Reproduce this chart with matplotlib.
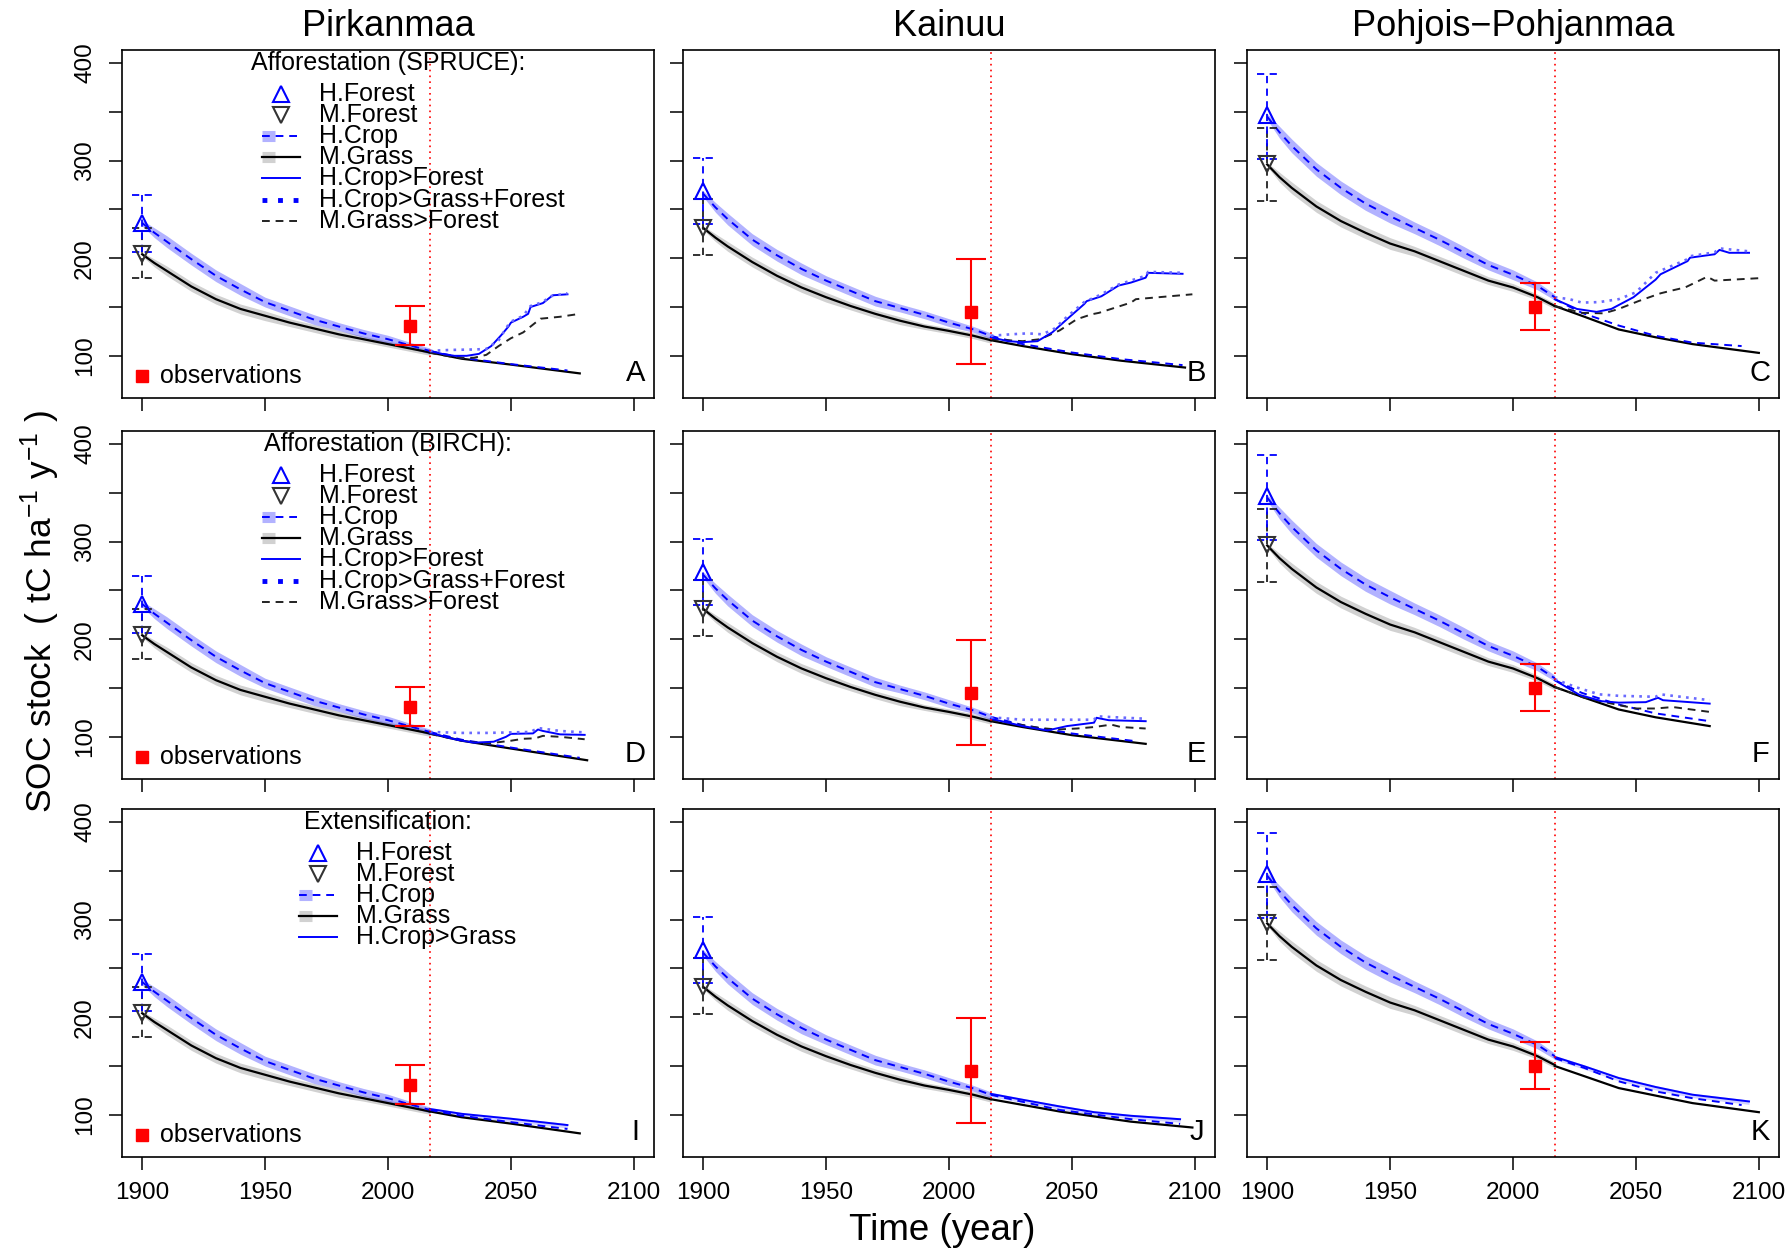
import numpy as np
import matplotlib
matplotlib.use('Agg')
import matplotlib.pyplot as plt

plt.rcParams['font.family'] = ['Liberation Sans', 'DejaVu Sans']
plt.rcParams['mathtext.fontset'] = 'custom'
plt.rcParams['mathtext.rm'] = 'Liberation Sans'
plt.rcParams['mathtext.it'] = 'Liberation Sans:italic'

# ---- data ----
regions = ['Pirkanmaa', 'Kainuu', 'Pohjois\u2212Pohjanmaa']
letters = [['A', 'B', 'C'], ['D', 'E', 'F'], ['I', 'J', 'K']]
row_titles = ['Afforestation (SPRUCE):', 'Afforestation (BIRCH):', 'Extensification:']

hist_years = [1900, 1905, 1910, 1920, 1930, 1940, 1950, 1960, 1970, 1980, 1990, 2000, 2010, 2017]
crop_pirk = [236, 226, 217, 199, 182, 168, 155, 146, 137, 130, 123, 117, 110, 105]
grass_pirk = [204, 195, 187, 171, 158, 148, 141, 134, 128, 122, 117, 112, 107, 103.5]
crop_kain = [266, 252, 240, 219, 203, 189, 177, 166.5, 156, 149, 142, 134, 127, 120.5]
grass_kain = [231, 221, 212, 196, 182, 170, 160, 151, 143, 136, 130, 125.5, 120.5, 116]
crop_pohj = [345, 329, 315, 291, 272, 256, 243, 231, 219, 206, 193, 183, 171.5, 160]
grass_pohj = [296, 283, 272, 253, 238, 226, 215, 207, 197, 187, 177, 170, 160, 151]
# half widths of the shaded bands
crop_band = [3, 5, 6, 6, 6, 6, 5, 5, 5, 4, 4, 4, 3, 3]
grass_band = [2, 4, 5, 5, 5, 5, 5, 4, 4, 4, 3, 3, 3, 3]
crop_band_pohj = [3, 6, 7, 7, 7, 7, 7, 6, 6, 6, 5, 5, 4, 3]
grass_band_pohj = [2, 5, 6, 6, 6, 6, 6, 5, 5, 5, 4, 4, 3, 3]

# initial forest values in 1900 with ranges
hforest = [236, 268.5, 347]
hforest_lo = [206, 235, 301.5]
hforest_hi = [265, 302.5, 389]
mforest = [204, 231, 296.5]
mforest_lo = [180, 203, 259]
mforest_hi = [231, 261, 333]

# observations (2009)
obs_year = 2009
obs_mean = [131, 144.5, 149.5]
obs_lo = [111, 91.5, 126]
obs_hi = [151, 199, 174.5]
present_year = 2017

# ---- projections after 2017, (year, value) ----
fut_A_crop = [(2017, 105), (2030, 98), (2050, 91.5), (2073, 85)]
fut_A_grass = [(2017, 103.5), (2030, 97), (2050, 91), (2078, 82)]
A_crop_forest = [(2017, 105), (2022, 102), (2027, 100), (2032, 100), (2037, 102), (2042, 110), (2046, 121),
                 (2049, 130), (2050, 134), (2055, 140), (2057, 143), (2058, 150), (2063, 154), (2066, 160),
                 (2067, 162), (2073, 163)]
A_crop_grass_forest = [(2017, 105), (2025, 106), (2035, 106.5), (2040, 107), (2045, 116), (2049, 132),
                       (2050, 135), (2055, 141), (2058, 151), (2063, 155), (2066, 161), (2073, 164)]
A_grass_forest = [(2017, 103), (2025, 99.5), (2030, 98), (2035, 98), (2040, 101), (2045, 110), (2050, 118),
                  (2055, 124), (2060, 134), (2062, 138), (2070, 140), (2078, 143)]

fut_B_crop = [(2017, 120.5), (2030, 112), (2050, 103.4), (2070, 96.6), (2095, 90.5)]
fut_B_grass = [(2017, 116), (2030, 110), (2050, 101.7), (2070, 95), (2096, 88)]
B_crop_forest = [(2017, 119), (2024, 115), (2030, 114), (2036, 115), (2042, 124), (2048, 137.5), (2055, 153),
                 (2056, 156), (2062, 161), (2069, 172), (2074, 175), (2080, 180), (2081, 185), (2095, 184)]
B_crop_grass_forest = [(2017, 120.5), (2025, 122), (2032, 123), (2038, 122), (2043, 128), (2048, 140),
                       (2055, 155), (2062, 163), (2069, 173), (2080, 182), (2081, 186), (2095, 185)]
B_grass_forest = [(2017, 117), (2030, 115), (2037, 117), (2045, 126), (2052, 137.5), (2058, 142.5),
                  (2061, 144), (2074, 154.5), (2076, 158), (2099, 163)]

fut_C_crop = [(2017, 158), (2028, 144), (2043, 131), (2058, 120.5), (2073, 113.5), (2093, 110)]
fut_C_grass = [(2017, 151), (2028, 141), (2043, 127), (2058, 119), (2073, 112), (2100, 103)]
C_crop_forest = [(2017, 158), (2026, 148), (2034, 145), (2040, 148), (2049, 160), (2058, 178), (2060, 183.5),
                 (2071, 197), (2072, 200.5), (2082, 204), (2084, 208.5), (2088, 205.5), (2096, 205.5)]
C_crop_grass_forest = [(2017, 160), (2023, 158), (2028, 154.5), (2035, 155), (2043, 158), (2050, 165),
                       (2058, 185), (2071, 199), (2072, 202), (2082, 206), (2084, 210), (2096, 207)]
C_grass_forest = [(2017, 151), (2028, 144), (2037, 143.5), (2043, 148), (2051, 156), (2060, 164),
                  (2064, 166.5), (2070, 170), (2079, 181), (2082, 177), (2100, 179.5)]

fut_D_crop = [(2017, 105), (2030, 97), (2050, 89), (2078, 78.5)]
fut_D_grass = [(2017, 103.5), (2030, 96), (2050, 88), (2081, 76)]
D_crop_forest = [(2017, 104), (2028, 97), (2035, 94), (2043, 95), (2048, 100), (2050, 103), (2059, 103.5),
                 (2061, 107.5), (2063, 106), (2070, 102.5), (2080, 102)]
D_crop_grass_forest = [(2017, 105), (2030, 104), (2040, 104), (2050, 104.5), (2058, 105), (2061, 109),
                       (2070, 106), (2080, 104.5)]
D_grass_forest = [(2017, 103), (2030, 96), (2040, 93), (2050, 96), (2055, 98), (2060, 98.5), (2063, 101),
                  (2070, 100), (2080, 97.5)]

fut_E_crop = [(2017, 120.5), (2030, 112), (2050, 103.4), (2076, 95.5)]
fut_E_grass = [(2017, 116), (2030, 110), (2050, 101.7), (2080, 92.8)]
E_crop_forest = [(2017, 118.5), (2024, 114.5), (2030, 111), (2040, 106.5), (2048, 111), (2059, 114.5),
                 (2060, 119.5), (2065, 117), (2080, 116)]
E_crop_grass_forest = [(2017, 120), (2030, 117.5), (2045, 117.5), (2059, 117.5), (2060, 121), (2080, 118.5)]
E_grass_forest = [(2017, 117), (2030, 112), (2037, 109), (2044, 107.5), (2052, 108.5), (2059, 110),
                  (2066, 112.5), (2070, 110), (2080, 108.5)]

fut_F_crop = [(2017, 158), (2028, 145), (2043, 133), (2058, 124), (2080, 116)]
fut_F_grass = [(2017, 151), (2028, 141), (2043, 128), (2058, 120), (2080, 111)]
F_crop_forest = [(2017, 158), (2027, 143), (2036, 136.5), (2043, 135), (2054, 135.5), (2059, 140),
                 (2061, 137.5), (2080, 134)]
F_crop_grass_forest = [(2017, 159), (2026, 150.5), (2035, 143.5), (2043, 142), (2058, 141), (2060, 143.5),
                       (2080, 137.5)]
F_grass_forest = [(2017, 151), (2029, 140), (2043, 132.5), (2050, 129), (2058, 129), (2065, 130.5),
                  (2080, 125.5)]

fut_I_crop = [(2017, 105), (2030, 99), (2050, 92.5), (2073, 85.5)]
fut_I_grass = [(2017, 103.5), (2030, 97.5), (2050, 91), (2078, 81)]
I_crop_grass = [(2017, 106), (2030, 101), (2050, 96), (2073, 89.5)]

fut_J_crop = [(2017, 120.5), (2045, 105), (2074, 95.5), (2094, 90.7)]
fut_J_grass = [(2017, 116), (2045, 103.4), (2074, 93), (2099, 87)]
J_crop_grass = [(2017, 121.5), (2030, 115.4), (2045, 108.6), (2059, 102.7), (2074, 99), (2094, 95.5)]

fut_K_crop = [(2017, 158), (2029, 148), (2043, 134.3), (2058, 124), (2073, 117), (2093, 110)]
fut_K_grass = [(2017, 150), (2043, 127.4), (2073, 112), (2100, 102.7)]
K_crop_grass = [(2017, 159.3), (2029, 149.7), (2043, 137.7), (2058, 128.5), (2073, 120.6), (2096, 113.7)]

# tables built from the lists above
crop_hist = [crop_pirk, crop_kain, crop_pohj]
grass_hist = [grass_pirk, grass_kain, grass_pohj]
crop_bands = [crop_band, crop_band, crop_band_pohj]
grass_bands = [grass_band, grass_band, grass_band_pohj]
future = {
    'A': dict(crop=fut_A_crop, grass=fut_A_grass, crop_forest=A_crop_forest,
              crop_grass_forest=A_crop_grass_forest, grass_forest=A_grass_forest),
    'B': dict(crop=fut_B_crop, grass=fut_B_grass, crop_forest=B_crop_forest,
              crop_grass_forest=B_crop_grass_forest, grass_forest=B_grass_forest),
    'C': dict(crop=fut_C_crop, grass=fut_C_grass, crop_forest=C_crop_forest,
              crop_grass_forest=C_crop_grass_forest, grass_forest=C_grass_forest),
    'D': dict(crop=fut_D_crop, grass=fut_D_grass, crop_forest=D_crop_forest,
              crop_grass_forest=D_crop_grass_forest, grass_forest=D_grass_forest),
    'E': dict(crop=fut_E_crop, grass=fut_E_grass, crop_forest=E_crop_forest,
              crop_grass_forest=E_crop_grass_forest, grass_forest=E_grass_forest),
    'F': dict(crop=fut_F_crop, grass=fut_F_grass, crop_forest=F_crop_forest,
              crop_grass_forest=F_crop_grass_forest, grass_forest=F_grass_forest),
    'I': dict(crop=fut_I_crop, grass=fut_I_grass, crop_grass=I_crop_grass),
    'J': dict(crop=fut_J_crop, grass=fut_J_grass, crop_grass=J_crop_grass),
    'K': dict(crop=fut_K_crop, grass=fut_K_grass, crop_grass=K_crop_grass),
}

# ---- styles ----
DASH = (0, (4, 3))
STY = {
    'crop': dict(color='blue', ls=DASH, lw=1.4),
    'grass': dict(color='black', ls='-', lw=1.6),
    'crop_forest': dict(color='blue', ls='-', lw=1.4),
    'crop_grass_forest': dict(color='#6a6aff', ls=(0, (1, 2)), lw=1.9),
    'grass_forest': dict(color='#222222', ls=DASH, lw=1.4),
    'crop_grass': dict(color='blue', ls='-', lw=1.4),
}
BLUE_BAND = (0, 0, 1, 0.3)
GREY_BAND = (0.55, 0.55, 0.55, 0.4)
KEY_FS = 18

aff_keys = [('up', 'H.Forest'), ('down', 'M.Forest'), ('crop', 'H.Crop'), ('grass', 'M.Grass'),
            ('crop_forest', 'H.Crop>Forest'), ('crop_grass_forest', 'H.Crop>Grass+Forest'),
            ('grass_forest', 'M.Grass>Forest')]
ext_keys = [('up', 'H.Forest'), ('down', 'M.Forest'), ('crop', 'H.Crop'), ('grass', 'M.Grass'),
            ('crop_grass', 'H.Crop>Grass')]


def draw_key(ax, heading, keys, xh):
    # legend drawn in axes fraction, R style
    tr = ax.transAxes
    ax.text(0.5, 0.962, heading, transform=tr, ha='center', va='center', fontsize=KEY_FS)
    hw = 0.071
    for i, (kind, label) in enumerate(keys):
        y = 0.874 - i * 0.0608
        if kind == 'up':
            ax.plot([xh + hw / 2], [y], marker='^', ms=11, mfc='none', mec='blue', mew=1.5,
                    transform=tr, clip_on=False)
        elif kind == 'down':
            ax.plot([xh + hw / 2], [y], marker='v', ms=11, mfc='none', mec='#333333', mew=1.5,
                    transform=tr, clip_on=False)
        else:
            if kind in ('crop', 'grass'):
                band = BLUE_BAND if kind == 'crop' else GREY_BAND
                ax.plot([xh, xh + 0.024], [y, y], color=band, lw=8, solid_capstyle='butt',
                        transform=tr, clip_on=False)
            st = dict(STY[kind])
            if kind == 'crop_grass_forest':
                st.update(color='blue', lw=3.5, ls=(0, (1, 2.2)))
            ax.plot([xh, xh + hw], [y, y], transform=tr, clip_on=False, **st)
        ax.text(xh + hw + 0.035, y, label, transform=tr, ha='left', va='center', fontsize=KEY_FS)


fig = plt.figure(figsize=(17.91, 12.5), dpi=100)
lefts = [122, 683, 1247]
tops = [50, 431, 809]
W, H = 532, 348

hy = np.array(hist_years)
for r in range(3):
    for c in range(3):
        ax = fig.add_axes([lefts[c] / 1791, 1 - (tops[r] + H) / 1250, W / 1791, H / 1250])
        letter = letters[r][c]
        crop = np.array(crop_hist[c])
        grass = np.array(grass_hist[c])
        cb = np.array(crop_bands[c])
        gb = np.array(grass_bands[c])

        ax.fill_between(hy, grass - gb, grass + gb, color=GREY_BAND, lw=0)
        ax.fill_between(hy, crop - cb, crop + cb, color=BLUE_BAND, lw=0)

        fut = future[letter]
        if 'crop_grass' in fut:
            fx, fy = np.array(fut['crop_grass']).T
            ax.fill_between(fx, fy - 3, fy + 1.5, color=(0, 0, 1, 0.18), lw=0)

        ax.plot(hy, grass, **STY['grass'])
        ax.plot(hy, crop, **STY['crop'])
        for name in ['grass', 'crop', 'grass_forest', 'crop_forest', 'crop_grass', 'crop_grass_forest']:
            if name in fut:
                fx, fy = np.array(fut[name]).T
                ax.plot(fx, fy, **STY[name])

        # initial forest values with ranges (dashed)
        x0 = hist_years[0]
        ax.vlines(x0, mforest_lo[c], mforest_hi[c], colors='#222222', linestyles=DASH, lw=1.3)
        ax.hlines([mforest_lo[c], mforest_hi[c]], x0 - 4, x0 + 4, colors='#222222', linestyles=DASH, lw=1.3)
        ax.vlines(x0, hforest_lo[c], hforest_hi[c], colors='blue', linestyles=DASH, lw=1.3)
        ax.hlines([hforest_lo[c], hforest_hi[c]], x0 - 4, x0 + 4, colors='blue', linestyles=DASH, lw=1.3)
        ax.plot([x0], [hforest[c]], marker='^', ms=11, mfc='none', mec='blue', mew=1.5, ls='none')
        ax.plot([x0], [mforest[c]], marker='v', ms=11, mfc='none', mec='#333333', mew=1.5, ls='none')

        # observation
        ax.errorbar([obs_year], [obs_mean[c]], yerr=[[obs_mean[c] - obs_lo[c]], [obs_hi[c] - obs_mean[c]]],
                    fmt='s', color='red', ms=8.5, capsize=11, elinewidth=1.5, capthick=1.5)

        ax.axvline(present_year, color='red', ls=(0, (1, 2.5)), lw=1.2)

        ax.set_xlim(1891.8, 2108.2)
        ax.set_ylim(56.8, 413.2)
        ax.set_xticks([1900, 1950, 2000, 2050, 2100])
        ax.set_yticks([100, 200, 300, 400])
        ax.set_yticks([150, 250, 350], minor=True)
        ax.tick_params(which='both', direction='out', length=9.7, width=1.1, labelsize=17.5,
                       labelbottom=(r == 2), labelleft=(c == 0))
        ax.tick_params(axis='x', pad=8)
        ax.tick_params(axis='y', pad=9)
        for lab in ax.get_yticklabels():
            lab.set_rotation(90)
            lab.set_va('center')
        for sp in ax.spines.values():
            sp.set_linewidth(1.2)

        ax.text(0.965, 0.072, letter, transform=ax.transAxes, ha='center', va='center', fontsize=21)

        if c == 0:
            if r < 2:
                draw_key(ax, row_titles[r], aff_keys, 0.264)
            else:
                draw_key(ax, row_titles[r], ext_keys, 0.333)
            ax.plot([0.038], [0.064], marker='s', ms=9, color='red', transform=ax.transAxes, ls='none')
            ax.text(0.072, 0.064, 'observations', transform=ax.transAxes, ha='left', va='center',
                    fontsize=KEY_FS)

for c in range(3):
    fig.text((lefts[c] + W / 2) / 1791, 1 - 27 / 1250, regions[c], ha='center', va='center', fontsize=26)

fig.text(942 / 1791, 1 - 1230 / 1250, 'Time (year)', ha='center', va='center', fontsize=26.5)
fig.text(40 / 1791, 1 - 612 / 1250, r'SOC stock  ( tC ha$^{-1}$ y$^{-1}$ )', rotation=90,
         ha='center', va='center', fontsize=25.5)

fig.savefig('out.png', dpi=100)
